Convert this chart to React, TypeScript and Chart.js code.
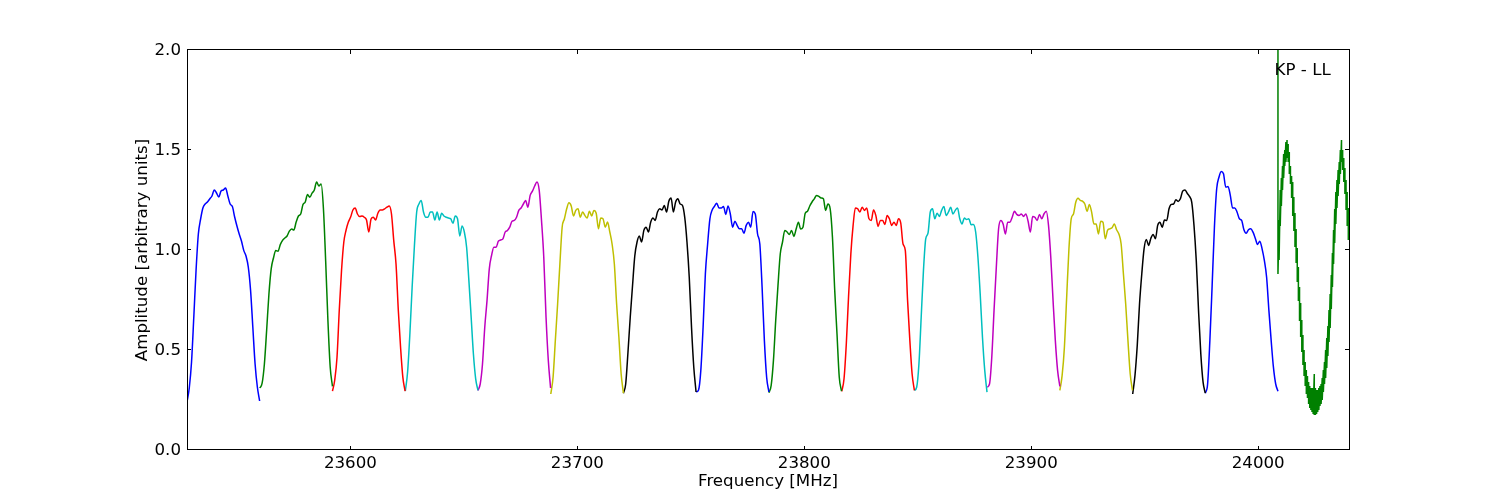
import { useEffect, useRef } from 'react';
import { Chart, registerables } from 'chart.js';

Chart.register(...registerables);

const BAND_STARTS = [23528, 23560.1, 23592.1, 23624.2, 23656.2, 23688.3, 23720.3, 23752.4, 23784.4, 23816.5, 23848.5, 23880.6, 23912.6, 23944.7, 23976.7];
const BAND_COLORS = ['#0000ff', '#008000', '#ff0000', '#00bfbf', '#bf00bf', '#bfbf00', '#000000', '#0000ff', '#008000', '#ff0000', '#00bfbf', '#bf00bf', '#bfbf00', '#000000', '#0000ff'];
const BAND_OFFSETS = [0, 1, 2, 3, 4, 5, 6, 7, 8, 9, 10, 11, 12, 13, 14, 15, 16, 17, 18, 19, 20, 21, 22, 23, 24, 25, 26, 27, 28, 29, 30, 31, 32];

const BAND_1 = [0.24, 0.31, 0.44, 0.665, 0.9, 1.08, 1.155, 1.21, 1.23, 1.24, 1.255, 1.27, 1.3, 1.285, 1.265, 1.295, 1.3, 1.31, 1.27, 1.23, 1.217, 1.165, 1.12, 1.08, 1.045, 0.998, 0.97, 0.915, 0.8, 0.615, 0.43, 0.315, 0.245];
const BAND_2 = [0.31, 0.334, 0.43, 0.6, 0.78, 0.906, 0.96, 0.998, 0.994, 1.027, 1.048, 1.06, 1.07, 1.094, 1.105, 1.1, 1.14, 1.17, 1.18, 1.227, 1.24, 1.277, 1.264, 1.284, 1.3, 1.34, 1.32, 1.33, 1.21, 0.945, 0.645, 0.414, 0.318];
const BAND_3 = [0.294, 0.35, 0.464, 0.7, 0.9, 1.04, 1.1, 1.14, 1.165, 1.2, 1.21, 1.18, 1.167, 1.17, 1.164, 1.15, 1.09, 1.155, 1.164, 1.15, 1.184, 1.2, 1.2, 1.206, 1.214, 1.22, 1.18, 1.047, 0.93, 0.7, 0.514, 0.364, 0.294];
const BAND_4 = [0.294, 0.39, 0.58, 0.814, 1.02, 1.19, 1.23, 1.248, 1.19, 1.164, 1.164, 1.19, 1.19, 1.15, 1.19, 1.15, 1.184, 1.17, 1.164, 1.16, 1.156, 1.134, 1.17, 1.156, 1.07, 1.12, 1.09, 1.014, 0.848, 0.665, 0.48, 0.356, 0.298];
const BAND_5 = [0.298, 0.33, 0.43, 0.614, 0.748, 0.906, 0.973, 1.014, 1.014, 1.044, 1.05, 1.056, 1.09, 1.098, 1.114, 1.144, 1.148, 1.164, 1.198, 1.21, 1.23, 1.248, 1.214, 1.273, 1.294, 1.32, 1.34, 1.298, 1.148, 0.964, 0.664, 0.448, 0.31];
const BAND_6 = [0.28, 0.364, 0.548, 0.73, 0.93, 1.114, 1.156, 1.206, 1.236, 1.22, 1.17, 1.198, 1.206, 1.164, 1.19, 1.173, 1.16, 1.194, 1.17, 1.198, 1.184, 1.106, 1.16, 1.156, 1.114, 1.14, 1.09, 1.03, 0.93, 0.73, 0.564, 0.38, 0.284];
const BAND_7 = [0.284, 0.33, 0.489, 0.664, 0.82, 0.97, 1.04, 1.07, 1.04, 1.098, 1.114, 1.09, 1.139, 1.16, 1.148, 1.19, 1.206, 1.2, 1.223, 1.19, 1.244, 1.26, 1.19, 1.24, 1.256, 1.23, 1.223, 1.164, 1.04, 0.864, 0.614, 0.414, 0.29];
const BAND_8 = [0.29, 0.3, 0.398, 0.614, 0.88, 1.03, 1.156, 1.2, 1.218, 1.234, 1.21, 1.21, 1.218, 1.178, 1.22, 1.18, 1.114, 1.144, 1.123, 1.106, 1.106, 1.084, 1.123, 1.139, 1.114, 1.193, 1.18, 1.08, 1.03, 0.814, 0.548, 0.364, 0.29];
const BAND_9 = [0.286, 0.323, 0.448, 0.648, 0.823, 0.98, 1.04, 1.098, 1.09, 1.078, 1.098, 1.068, 1.105, 1.139, 1.105, 1.114, 1.184, 1.194, 1.22, 1.24, 1.256, 1.273, 1.268, 1.26, 1.256, 1.198, 1.23, 1.206, 1.064, 0.798, 0.581, 0.364, 0.294];
const BAND_10 = [0.293, 0.356, 0.53, 0.768, 0.98, 1.123, 1.21, 1.206, 1.19, 1.214, 1.198, 1.21, 1.156, 1.148, 1.2, 1.173, 1.118, 1.148, 1.148, 1.128, 1.173, 1.156, 1.123, 1.139, 1.123, 1.156, 1.134, 1.03, 0.998, 0.748, 0.548, 0.38, 0.298];
const BAND_11 = [0.298, 0.314, 0.43, 0.664, 0.898, 1.056, 1.084, 1.19, 1.206, 1.156, 1.184, 1.168, 1.198, 1.218, 1.173, 1.19, 1.214, 1.18, 1.198, 1.21, 1.156, 1.13, 1.16, 1.153, 1.156, 1.126, 1.128, 1.09, 0.964, 0.78, 0.564, 0.398, 0.289];
const BAND_12 = [0.314, 0.33, 0.464, 0.698, 0.914, 1.106, 1.148, 1.13, 1.08, 1.139, 1.139, 1.164, 1.194, 1.178, 1.173, 1.18, 1.168, 1.18, 1.144, 1.09, 1.168, 1.164, 1.148, 1.178, 1.156, 1.18, 1.194, 1.123, 0.964, 0.748, 0.548, 0.398, 0.318];
const BAND_13 = [0.298, 0.373, 0.514, 0.764, 1.006, 1.156, 1.18, 1.239, 1.259, 1.248, 1.244, 1.23, 1.194, 1.228, 1.189, 1.13, 1.13, 1.08, 1.144, 1.139, 1.056, 1.098, 1.106, 1.111, 1.13, 1.101, 1.08, 1.03, 0.881, 0.731, 0.548, 0.38, 0.298];
const BAND_14 = [0.28, 0.373, 0.523, 0.73, 0.881, 1.006, 1.053, 1.023, 1.059, 1.078, 1.056, 1.123, 1.139, 1.114, 1.15, 1.148, 1.206, 1.228, 1.23, 1.251, 1.243, 1.256, 1.294, 1.3, 1.284, 1.268, 1.239, 1.123, 0.948, 0.698, 0.481, 0.339, 0.284];
const BAND_15 = [0.284, 0.33, 0.548, 0.823, 1.114, 1.306, 1.364, 1.393, 1.381, 1.314, 1.318, 1.273, 1.21, 1.21, 1.189, 1.156, 1.148, 1.101, 1.084, 1.101, 1.106, 1.089, 1.059, 1.028, 1.044, 1.006, 0.948, 0.864, 0.698, 0.548, 0.414, 0.33, 0.294];
const BANDS = [BAND_1, BAND_2, BAND_3, BAND_4, BAND_5, BAND_6, BAND_7, BAND_8, BAND_9, BAND_10, BAND_11, BAND_12, BAND_13, BAND_14, BAND_15];

// last band is a much denser, noisy trace: upper and lower edge per sample
const TAIL_START = 24008.7;
const TAIL_OFFSETS = [0, 0.5, 1, 1.5, 2, 2.5, 3, 3.5, 4, 4.5, 5, 5.5, 6, 6.5, 7, 7.5, 8, 8.5, 9, 9.5, 10, 10.5, 11, 11.5, 12, 12.5, 13, 13.5, 14, 14.5, 15, 15.5, 16, 16.5, 17, 17.5, 18, 18.5, 19, 19.5, 20, 20.5, 21, 21.5, 22, 22.5, 23, 23.5, 24, 24.5, 25, 25.5, 26, 26.5, 27, 27.5, 28, 28.5, 29, 29.5, 30, 30.5, 31, 31.5];
const TAIL_HI = [4.0, 1.15, 1.3, 1.36, 1.42, 1.48, 1.5, 1.54, 1.55, 1.53, 1.49, 1.42, 1.37, 1.34, 1.265, 1.185, 1.105, 1.01, 0.915, 0.815, 0.735, 0.65, 0.575, 0.5, 0.44, 0.4, 0.37, 0.34, 0.32, 0.31, 0.31, 0.31, 0.38, 0.31, 0.3, 0.3, 0.31, 0.32, 0.33, 0.36, 0.4, 0.44, 0.5, 0.56, 0.62, 0.7, 0.78, 0.875, 0.985, 1.1, 1.205, 1.29, 1.35, 1.4, 1.44, 1.5, 1.55, 1.5, 1.46, 1.41, 1.35, 1.29, 1.21, 1.15];
const TAIL_LO = [0.88, 0.95, 1.12, 1.22, 1.3, 1.36, 1.42, 1.44, 1.46, 1.44, 1.38, 1.33, 1.26, 1.17, 1.095, 1.015, 0.935, 0.84, 0.745, 0.645, 0.565, 0.49, 0.425, 0.37, 0.32, 0.28, 0.26, 0.23, 0.21, 0.2, 0.19, 0.18, 0.175, 0.175, 0.18, 0.19, 0.2, 0.22, 0.23, 0.25, 0.29, 0.33, 0.36, 0.41, 0.47, 0.54, 0.61, 0.705, 0.815, 0.93, 1.035, 1.13, 1.21, 1.27, 1.33, 1.38, 1.44, 1.4, 1.34, 1.28, 1.2, 1.12, 1.05, 0.98];
const TAIL_COLOR = '#008000';

const X_TICKS = [23600, 23700, 23800, 23900, 24000];
const NOTE = 'KP - LL';
const FONT = '"DejaVu Sans"';
const FONT_SIZE = 16.67;

const framePlugin = {
  id: 'frame',
  afterDatasetsDraw(chart: Chart) {
    const { ctx, chartArea: a, scales } = chart;
    const len = 4;
    ctx.save();
    ctx.strokeStyle = '#000';
    ctx.lineWidth = 1;
    ctx.beginPath();
    scales.x.ticks.forEach(t => {
      const px = Math.round(scales.x.getPixelForValue(t.value)) + 0.5;
      ctx.moveTo(px, a.top);
      ctx.lineTo(px, a.top + len);
      ctx.moveTo(px, a.bottom);
      ctx.lineTo(px, a.bottom - len);
    });
    scales.y.ticks.forEach(t => {
      const py = Math.round(scales.y.getPixelForValue(t.value)) - 0.5;
      ctx.moveTo(a.left, py);
      ctx.lineTo(a.left + len, py);
      ctx.moveTo(a.right, py);
      ctx.lineTo(a.right - len, py);
    });
    ctx.stroke();
    ctx.strokeRect(a.left + 0.5, a.top - 0.5, a.right - a.left, a.bottom - a.top);

    ctx.fillStyle = '#000';
    ctx.font = `${FONT_SIZE}px ${FONT}`;
    ctx.textBaseline = 'middle';
    ctx.textAlign = 'left';
    ctx.fillText(NOTE, scales.x.getPixelForValue(24007.2), scales.y.getPixelForValue(1.895));
    ctx.restore();
  },
};

export default function App() {
  const canvasRef = useRef<HTMLCanvasElement>(null);

  useEffect(() => {
    if (!canvasRef.current) return;

    const datasets: any[] = BANDS.map((values, i) => ({
      data: values.map((v, j) => ({ x: BAND_STARTS[i] + BAND_OFFSETS[j], y: v })),
      borderColor: BAND_COLORS[i],
      borderWidth: 1.5,
      pointRadius: 0,
      cubicInterpolationMode: 'monotone',
    }));
    const tail: { x: number; y: number }[] = [];
    TAIL_OFFSETS.forEach((off, i) => {
      tail.push({ x: TAIL_START + off, y: TAIL_HI[i] });
      tail.push({ x: TAIL_START + off, y: TAIL_LO[i] });
    });
    datasets.push({ data: tail, borderColor: TAIL_COLOR, borderWidth: 1.5, pointRadius: 0, tension: 0 });

    const chart = new Chart(canvasRef.current, {
      type: 'line',
      data: { datasets },
      options: {
        animation: false,
        responsive: false,
        devicePixelRatio: 1,
        layout: { padding: { left: 133, right: 151, top: 50, bottom: 9 } },
        plugins: { legend: { display: false }, tooltip: { enabled: false } },
        scales: {
          x: {
            type: 'linear',
            min: 23528,
            max: 24040,
            afterBuildTicks: (axis: any) => {
              axis.ticks = X_TICKS.map(value => ({ value }));
            },
            afterFit: (axis: any) => {
              axis.height = 41;
            },
            grid: { display: false, drawTicks: false },
            border: { display: false },
            ticks: { color: '#000', font: { family: FONT, size: FONT_SIZE }, padding: 4, maxRotation: 0, autoSkip: false, callback: v => String(v) },
            title: { display: true, text: 'Frequency [MHz]', color: '#000', font: { family: FONT, size: FONT_SIZE }, padding: { top: 1, bottom: -1 } },
          },
          y: {
            min: 0,
            max: 2,
            afterFit: (axis: any) => {
              axis.width = 54;
            },
            grid: { display: false, drawTicks: false },
            border: { display: false },
            ticks: { stepSize: 0.5, color: '#000', font: { family: FONT, size: FONT_SIZE }, padding: 6, labelOffset: 1, callback: v => Number(v).toFixed(1) },
            title: { display: true, text: 'Amplitude [arbitrary units]', color: '#000', font: { family: FONT, size: FONT_SIZE }, padding: { top: 0, bottom: 0 } },
          },
        },
      },
      plugins: [framePlugin],
    });

    return () => chart.destroy();
  }, []);

  return (
    <div style={{ position: 'absolute', left: 0, top: 0, width: 1500, height: 500, background: '#fff' }}>
      <canvas ref={canvasRef} width={1500} height={500} style={{ display: 'block' }} />
    </div>
  );
}
